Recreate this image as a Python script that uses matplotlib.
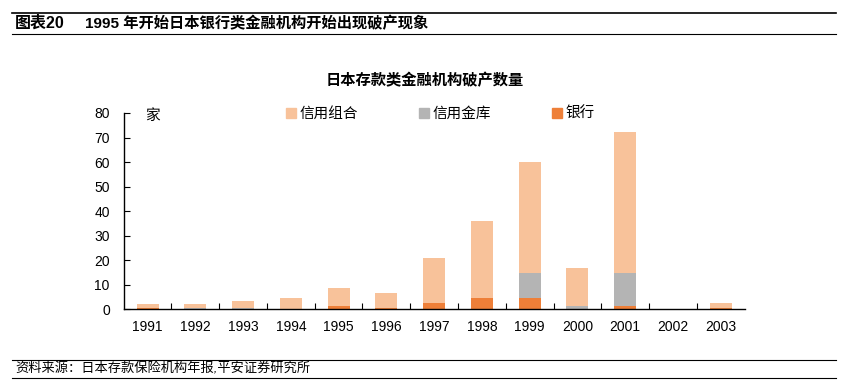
import numpy as np
import matplotlib.pyplot as plt
from matplotlib.patches import Patch

plt.rcParams['font.family'] = ['Liberation Sans', 'Noto Sans CJK SC', 'DejaVu Sans']

years = ['1991', '1992', '1993', '1994', '1995', '1996', '1997',
         '1998', '1999', '2000', '2001', '2002', '2003']
credit_union = [1.8, 1.8, 3.0, 4.4, 7.4, 6.2, 18.1, 31.4, 45.3, 15.5, 57.4, 0, 2.0]
shinkin = [0, 0.4, 0.4, 0, 0, 0, 0, 0, 10.2, 1.2, 13.5, 0, 0]
bank = [0.4, 0, 0, 0, 1.2, 0.4, 2.7, 4.5, 4.5, 0, 1.2, 0, 0.4]

c_cu = '#F8C29A'
c_sk = '#B4B4B4'
c_bk = '#EE7F38'

fig = plt.figure(figsize=(8.5, 3.91), dpi=100)
ax = fig.add_axes([0.1455, 0.209, 0.7305, 0.502])

x = np.arange(len(years))
b = np.array(bank)
s = np.array(shinkin)
w = 0.46
ax.bar(x, bank, w, color=c_bk, label='银行', zorder=2)
ax.bar(x, shinkin, w, bottom=b, color=c_sk, label='信用金库', zorder=2)
ax.bar(x, credit_union, w, bottom=b + s, color=c_cu, label='信用组合', zorder=2)

ax.set_xlim(-0.5, len(years) - 0.5)
ax.set_ylim(0, 80)
ax.set_yticks(range(0, 81, 10))
ax.set_xticks(x)
ax.set_xticklabels(years)
ax.set_xticks(np.arange(0.5, len(years) - 1, 1), minor=True)
ax.tick_params(axis='x', which='major', length=0, pad=8, labelsize=10)
ax.tick_params(axis='x', which='minor', direction='in', length=4, width=0.8)
ax.tick_params(axis='y', direction='in', length=4, width=0.8, pad=10, labelsize=10)
for side in ['top', 'right']:
    ax.spines[side].set_visible(False)
for side in ['left', 'bottom']:
    ax.spines[side].set_linewidth(1.0)
    ax.spines[side].set_zorder(3)

ax.text(0.035, 1.02, '家', transform=ax.transAxes, fontsize=10.5, va='top', ha='left')

handles = [Patch(color=c_cu), Patch(color=c_sk), Patch(color=c_bk)]
fig.legend(handles, ['信用组合', '信用金库', '银行'], ncol=3, loc='center',
           bbox_to_anchor=(0.518, 0.708), frameon=False, fontsize=10.5,
           handlelength=0.7, handleheight=0.7, handletextpad=0.2,
           columnspacing=4.2)

fig.text(0.5, 0.795, '日本存款类金融机构破产数量', ha='center', va='center',
         fontsize=11, fontweight='bold')

# header
fig.add_artist(plt.Line2D([0.014, 0.983], [0.968, 0.968], color='black', lw=1.2))
fig.add_artist(plt.Line2D([0.014, 0.983], [0.913, 0.913], color='black', lw=0.8))
fig.text(0.018, 0.941, '图表20', fontsize=11.5, fontweight='bold', va='center')
fig.text(0.1, 0.941, '1995 年开始日本银行类金融机构开始出现破产现象', fontsize=11,
         fontweight='bold', va='center')

# footer
fig.add_artist(plt.Line2D([0.014, 0.983], [0.079, 0.079], color='black', lw=0.8))
fig.add_artist(plt.Line2D([0.014, 0.983], [0.033, 0.033], color='black', lw=0.8))
fig.text(0.018, 0.056, '资料来源：日本存款保险机构年报,平安证券研究所', fontsize=9.5,
         style='italic', va='center')

fig.savefig('out.png', dpi=100)
